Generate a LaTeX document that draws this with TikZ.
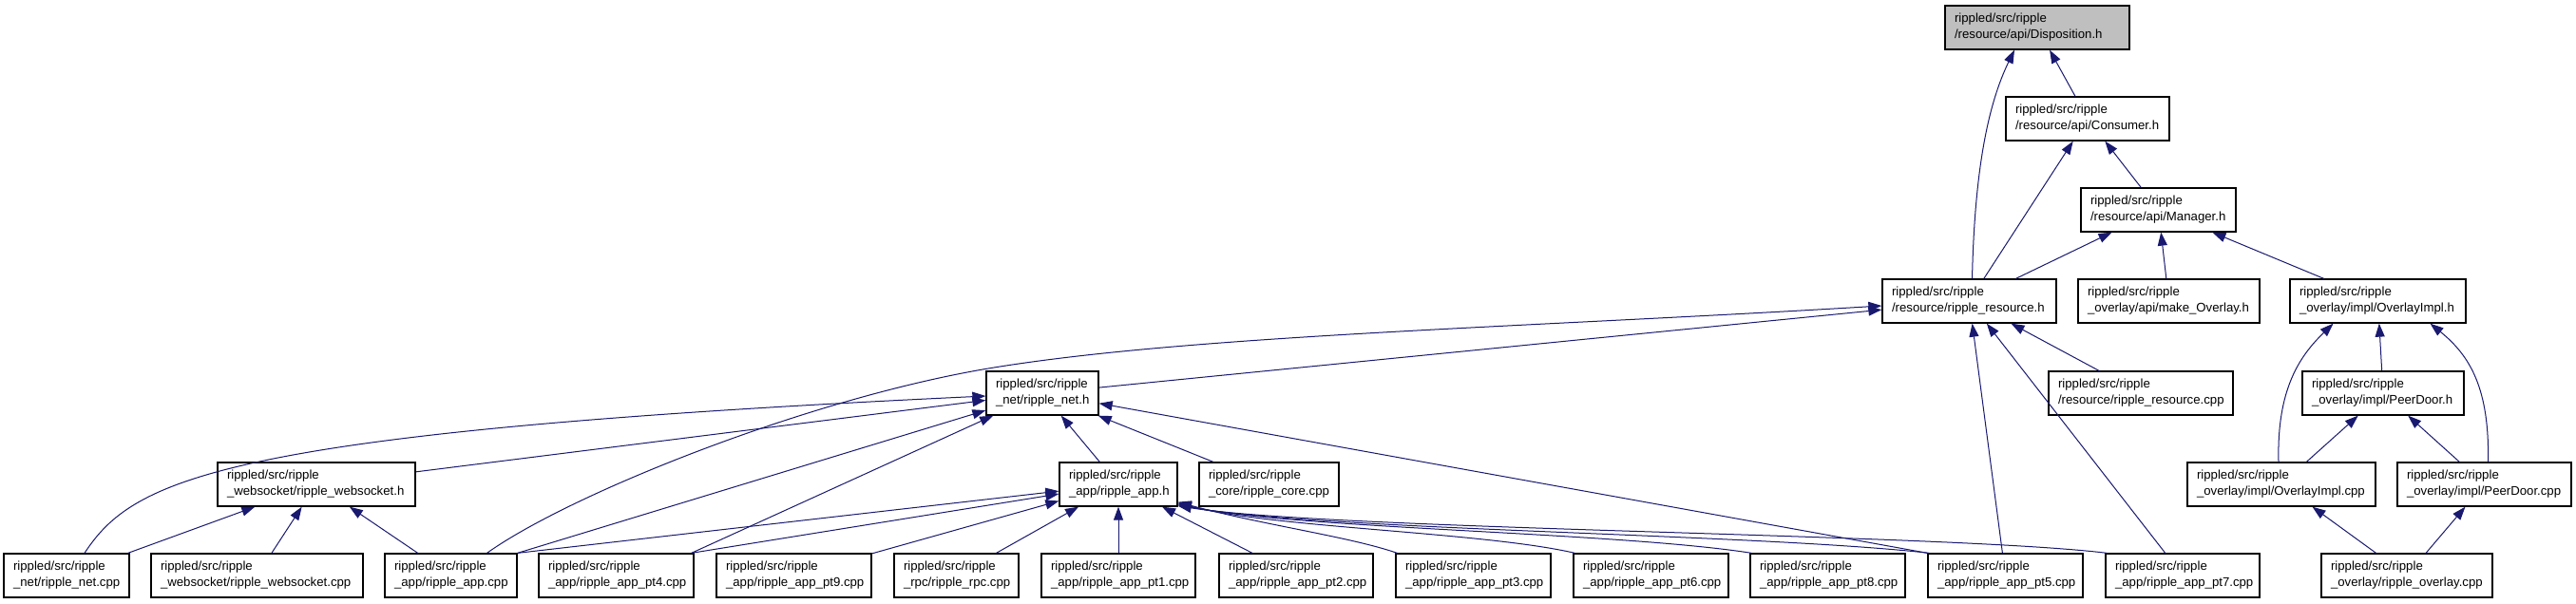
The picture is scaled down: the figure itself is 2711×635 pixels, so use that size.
\documentclass[tikz,border=0pt]{standalone}
\usepackage{fontspec}
\setsansfont{Liberation Sans}
\usetikzlibrary{arrows.meta}
\definecolor{edgeblue}{HTML}{191970}
\definecolor{rootgrey}{HTML}{BFBFBF}
\hyphenpenalty=10000
\tikzset{
  every picture/.style={font=\sffamily\fontsize{13.2}{17}\selectfont},
  file/.style={draw=black, fill=white, line width=1.3pt, minimum height=46pt,
               inner xsep=10pt, inner ysep=2pt, align=left, text width=#1},
  file/.default=143pt,
  root/.style={file=#1, fill=rootgrey},
  dep/.style={-{Triangle[length=14pt, width=10pt]}, draw=edgeblue, line width=1pt},
}

\begin{document}
\begin{tikzpicture}[x=1pt, y=1pt]
  \useasboundingbox (0,0) rectangle (2711,-635);
  \fill[white] (0,0) rectangle (2711,-635);

  % headers
  \node[root=174pt] (disp) at (2144,-29) {rippled/src/ripple\\/resource/api/Disposition.h};
  \node[file=152pt] (consumer) at (2197,-125) {rippled/src/ripple\\/resource/api/Consumer.h};
  \node[file=143pt] (manager) at (2271.5,-221) {rippled/src/ripple\\/resource/api/Manager.h};
  \node[file=163pt] (resh) at (2072.5,-317) {rippled/src/ripple\\/resource/ripple\_resource.h};
  \node[file=171pt] (mkoverlay) at (2282.5,-317) {rippled/src/ripple\\\_overlay/api/make\_Overlay.h};
  \node[file=165pt] (ovimplh) at (2502.5,-317) {rippled/src/ripple\\\_overlay/impl/OverlayImpl.h};
  \node[file=98pt] (neth) at (1097,-414) {rippled/src/ripple\\\_net/ripple\_net.h};
  \node[file=174pt] (rescpp) at (2253,-414) {rippled/src/ripple\\/resource/ripple\_resource.cpp};
  \node[file=150pt] (peerh) at (2508,-414) {rippled/src/ripple\\\_overlay/impl/PeerDoor.h};
  \node[file=188pt] (wsh) at (333,-510) {rippled/src/ripple\\\_websocket/ripple\_websocket.h};
  \node[file=104pt] (apph) at (1177,-510) {rippled/src/ripple\\\_app/ripple\_app.h};
  \node[file=127pt] (corecpp) at (1335.5,-510) {rippled/src/ripple\\\_core/ripple\_core.cpp};
  \node[file=178pt] (ovimplcpp) at (2401,-510) {rippled/src/ripple\\\_overlay/impl/OverlayImpl.cpp};
  \node[file=163pt] (peercpp) at (2614.5,-510) {rippled/src/ripple\\\_overlay/impl/PeerDoor.cpp};

  % sources, bottom row
  \node[file=112pt] (netcpp) at (70,-606) {rippled/src/ripple\\\_net/ripple\_net.cpp};
  \node[file=203pt] (wscpp) at (270.5,-606) {rippled/src/ripple\\\_websocket/ripple\_websocket.cpp};
  \node[file=119pt] (appcpp) at (474.5,-606) {rippled/src/ripple\\\_app/ripple\_app.cpp};
  \node[file] (pt4) at (648.5,-606) {rippled/src/ripple\\\_app/ripple\_app\_pt4.cpp};
  \node[file] (pt9) at (835.5,-606) {rippled/src/ripple\\\_app/ripple\_app\_pt9.cpp};
  \node[file=111pt] (rpc) at (1006.5,-606) {rippled/src/ripple\\\_rpc/ripple\_rpc.cpp};
  \node[file=142pt] (pt1) at (1177,-606) {rippled/src/ripple\\\_app/ripple\_app\_pt1.cpp};
  \node[file=142pt] (pt2) at (1364,-606) {rippled/src/ripple\\\_app/ripple\_app\_pt2.cpp};
  \node[file] (pt3) at (1550.5,-606) {rippled/src/ripple\\\_app/ripple\_app\_pt3.cpp};
  \node[file] (pt6) at (1737.5,-606) {rippled/src/ripple\\\_app/ripple\_app\_pt6.cpp};
  \node[file] (pt8) at (1923.5,-606) {rippled/src/ripple\\\_app/ripple\_app\_pt8.cpp};
  \node[file] (pt5) at (2110.5,-606) {rippled/src/ripple\\\_app/ripple\_app\_pt5.cpp};
  \node[file=142pt] (pt7) at (2297,-606) {rippled/src/ripple\\\_app/ripple\_app\_pt7.cpp};
  \node[file=160pt] (overlaycpp) at (2533,-606) {rippled/src/ripple\\\_overlay/ripple\_overlay.cpp};

  % resource api
  \draw[dep] (consumer) -- (disp);
  \draw[dep] ([xshift=3pt]resh.north) .. controls (2078,-180) and (2092,-110) .. ([xshift=-24pt]disp.south);
  \draw[dep] (resh) -- (consumer);
  \draw[dep] (manager) -- (consumer);
  \draw[dep] (resh) -- (manager);
  \draw[dep] (mkoverlay) -- (manager);
  \draw[dep] (ovimplh) -- (manager);
  \draw[dep] (neth) -- (resh);
  \draw[dep] ([xshift=38pt]appcpp.north) .. controls (600,-520) and (850,-420) .. (1040,-388)
             .. controls (1250,-353) and (1600,-345) .. ([yshift=-5pt]resh.west);
  \draw[dep] (rescpp) -- (resh);
  \draw[dep] (pt5) -- (resh);
  \draw[dep] (pt7) -- (resh);

  % overlay
  \draw[dep] (peerh) -- (ovimplh);
  \draw[dep] ([xshift=-3pt]ovimplcpp.north) .. controls (2396,-410) and (2420,-375) .. ([xshift=-47pt]ovimplh.south);
  \draw[dep] ([xshift=4pt]peercpp.north) .. controls (2620,-410) and (2600,-375) .. ([xshift=55pt]ovimplh.south);
  \draw[dep] (ovimplcpp) -- (peerh);
  \draw[dep] (peercpp) -- (peerh);
  \draw[dep] (overlaycpp) -- (ovimplcpp);
  \draw[dep] (overlaycpp) -- (peercpp);

  % net
  \draw[dep] ([xshift=19pt]netcpp.north) .. controls (140,-505) and (230,-455) .. ([yshift=-3pt]neth.west);
  \draw[dep] (wsh) -- (neth);
  \draw[dep] (appcpp.north east) -- (neth);
  \draw[dep] ([xshift=-3pt]pt4.north east) -- (neth);
  \draw[dep] (apph) -- (neth);
  \draw[dep] (corecpp) -- (neth);
  \draw[dep] (pt5.north west) -- (neth);

  % websocket
  \draw[dep] (netcpp) -- (wsh);
  \draw[dep] (wscpp) -- (wsh);
  \draw[dep] (appcpp) -- (wsh);

  % app
  \draw[dep] (appcpp.north east) -- (apph);
  \draw[dep] ([xshift=-3pt]pt4.north east) -- (apph);
  \draw[dep] (pt9) -- (apph);
  \draw[dep] (rpc) -- (apph);
  \draw[dep] (pt1) -- (apph);
  \draw[dep] (pt2) -- (apph);
  \draw[dep] ([xshift=2pt]pt3.north west) .. controls (1420,-565) and (1330,-553) .. ([yshift=5pt]apph.south east);
  \draw[dep] ([xshift=2pt]pt6.north west) .. controls (1560,-560) and (1340,-556) .. ([yshift=4pt]apph.south east);
  \draw[dep] ([xshift=2pt]pt8.north west) .. controls (1700,-560) and (1360,-557) .. ([yshift=3pt]apph.south east);
  \draw[dep] ([xshift=2pt]pt5.north west) .. controls (1850,-562) and (1380,-558) .. ([yshift=2pt]apph.south east);
  \draw[dep] ([xshift=2pt]pt7.north west) .. controls (2050,-562) and (1400,-558) .. ([yshift=1pt]apph.south east);
\end{tikzpicture}
\end{document}
